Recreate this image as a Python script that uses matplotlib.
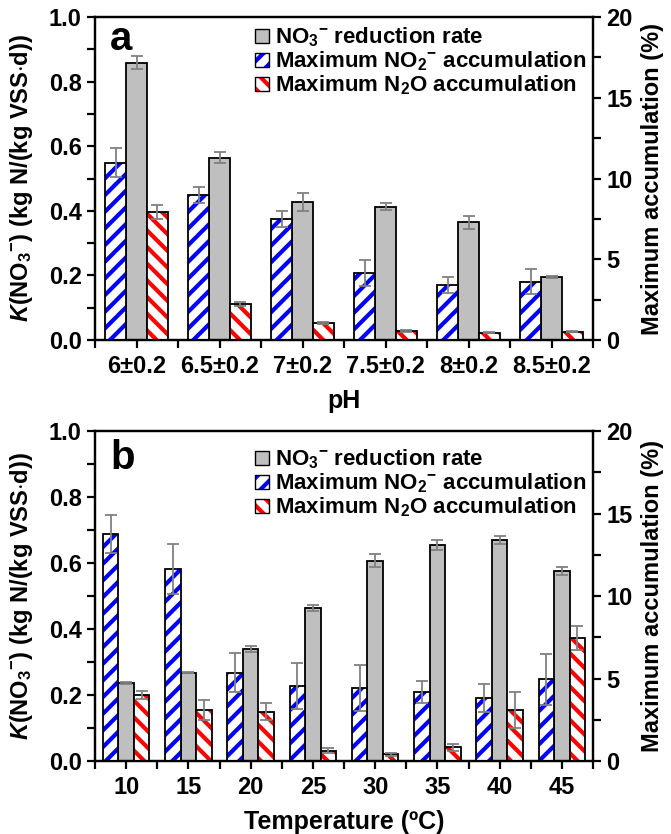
import numpy as np
import matplotlib
matplotlib.use('Agg')
import matplotlib.pyplot as plt
from matplotlib.patches import Patch
from matplotlib.ticker import MultipleLocator

# data
ph_labels = ['6±0.2', '6.5±0.2', '7±0.2', '7.5±0.2', '8±0.2', '8.5±0.2']
ph_rate = [0.859, 0.564, 0.427, 0.412, 0.365, 0.195]          # kg N/(kg VSS d)
ph_rate_err = [0.019, 0.017, 0.027, 0.011, 0.020, 0.004]
ph_no2 = [10.98, 8.98, 7.49, 4.13, 3.41, 3.61]                 # %
ph_no2_err = [0.90, 0.48, 0.49, 0.80, 0.52, 0.76]
ph_n2o = [7.91, 2.21, 1.07, 0.55, 0.45, 0.51]                  # %
ph_n2o_err = [0.43, 0.13, 0.06, 0.04, 0.03, 0.04]

temp_labels = ['10', '15', '20', '25', '30', '35', '40', '45']
temp_rate = [0.237, 0.268, 0.340, 0.463, 0.607, 0.655, 0.670, 0.576]
temp_rate_err = [0.003, 0.002, 0.009, 0.0085, 0.019, 0.015, 0.013, 0.013]
temp_no2 = [13.76, 11.64, 5.35, 4.55, 4.42, 4.20, 3.80, 4.95]
temp_no2_err = [1.18, 1.52, 1.19, 1.41, 1.40, 0.66, 0.85, 1.55]
temp_n2o = [4.00, 3.09, 2.99, 0.63, 0.40, 0.83, 3.09, 7.44]
temp_n2o_err = [0.22, 0.59, 0.53, 0.17, 0.10, 0.20, 1.09, 0.73]

plt.rcParams['font.family'] = 'Liberation Sans'
plt.rcParams['font.weight'] = 'bold'
plt.rcParams['axes.labelweight'] = 'bold'
plt.rcParams['mathtext.fontset'] = 'custom'
plt.rcParams['mathtext.rm'] = 'Liberation Sans:bold'
plt.rcParams['mathtext.bf'] = 'Liberation Sans:bold'
plt.rcParams['mathtext.it'] = 'Liberation Sans:italic:bold'
plt.rcParams['hatch.linewidth'] = 3.0

GRAY = '#bfbfbf'
ERR = '#808080'


def draw_panel(ax, labels, rate, rate_err, no2, no2_err, n2o, n2o_err,
               letter, xlabel, letter_y, legend_y):
    x = np.arange(len(labels))
    w = 0.25
    ekw = dict(ecolor=ERR, elinewidth=1.3, capsize=4, capthick=1.3)
    ax2 = ax.twinx()

    ax.bar(x, rate, w, color=GRAY, edgecolor='black', linewidth=1.3,
           yerr=rate_err, error_kw=ekw)

    # hatched bars: pattern layer then black outline layer
    ax2.bar(x - w, no2, w, color='white', edgecolor='blue', hatch='//', linewidth=0)
    ax2.bar(x - w, no2, w, color='none', edgecolor='black', linewidth=1.3,
            yerr=no2_err, error_kw=ekw)
    ax2.bar(x + w, n2o, w, color='white', edgecolor='red', hatch='\\\\', linewidth=0)
    ax2.bar(x + w, n2o, w, color='none', edgecolor='black', linewidth=1.3,
            yerr=n2o_err, error_kw=ekw)

    ax.set_xlim(-0.5, len(labels) - 0.5)
    ax.set_ylim(0, 1.0)
    ax2.set_ylim(0, 20)
    ax.set_xticks(x)
    ax.set_xticklabels(labels)
    ax.set_xticks(np.arange(-0.5, len(labels)), minor=True)
    ax.yaxis.set_major_locator(MultipleLocator(0.2))
    ax.yaxis.set_minor_locator(MultipleLocator(0.1))
    ax2.yaxis.set_major_locator(MultipleLocator(5))
    ax2.yaxis.set_minor_locator(MultipleLocator(2.5))

    for a in (ax, ax2):
        for s in a.spines.values():
            s.set_linewidth(1.6)
        a.tick_params(which='both', direction='out', length=6, width=1.6, labelsize=17)
    ax.tick_params(axis='x', pad=5)

    ax.set_ylabel(r'$\mathit{K}$(NO$_3$$^{-}$) (kg N/(kg VSS$\cdot$d))', fontsize=17, labelpad=10)
    ax2.set_ylabel('Maximum accumulation (%)', fontsize=17, labelpad=6)
    ax.set_xlabel(xlabel, fontsize=18, labelpad=8)

    ax.text(0.03, letter_y, letter, transform=ax.transAxes, fontsize=29,
            fontweight='bold', va='baseline', ha='left')

    handles = [
        Patch(facecolor=GRAY, edgecolor='black', linewidth=1.0),
        (Patch(facecolor='white', edgecolor='blue', hatch='//', linewidth=0),
         Patch(facecolor='none', edgecolor='black', linewidth=1.0)),
        (Patch(facecolor='white', edgecolor='red', hatch='\\\\', linewidth=0),
         Patch(facecolor='none', edgecolor='black', linewidth=1.0)),
    ]
    names = ['NO$_3$$^{-}$ reduction rate',
             'Maximum NO$_2$$^{-}$ accumulation',
             'Maximum N$_2$O accumulation']
    ax2.legend(handles, names, loc='upper left', bbox_to_anchor=(0.295, legend_y),
               frameon=False, fontsize=16, handlelength=0.6, handleheight=0.6,
               handletextpad=0.3, labelspacing=0.02, borderaxespad=0.2)


fig = plt.figure(figsize=(6.71, 8.34), dpi=100)
ax_a = fig.add_axes([0.1416, 0.5923, 0.7422, 0.3873])
ax_b = fig.add_axes([0.1416, 0.0875, 0.7422, 0.3957])

draw_panel(ax_a, ph_labels, ph_rate, ph_rate_err, ph_no2, ph_no2_err,
           ph_n2o, ph_n2o_err, 'a', 'pH', 0.898, 1.015)
draw_panel(ax_b, temp_labels, temp_rate, temp_rate_err, temp_no2, temp_no2_err,
           temp_n2o, temp_n2o_err, 'b', 'Temperature (ºC)', 0.885, 0.99)

fig.savefig('out.png', dpi=100)
